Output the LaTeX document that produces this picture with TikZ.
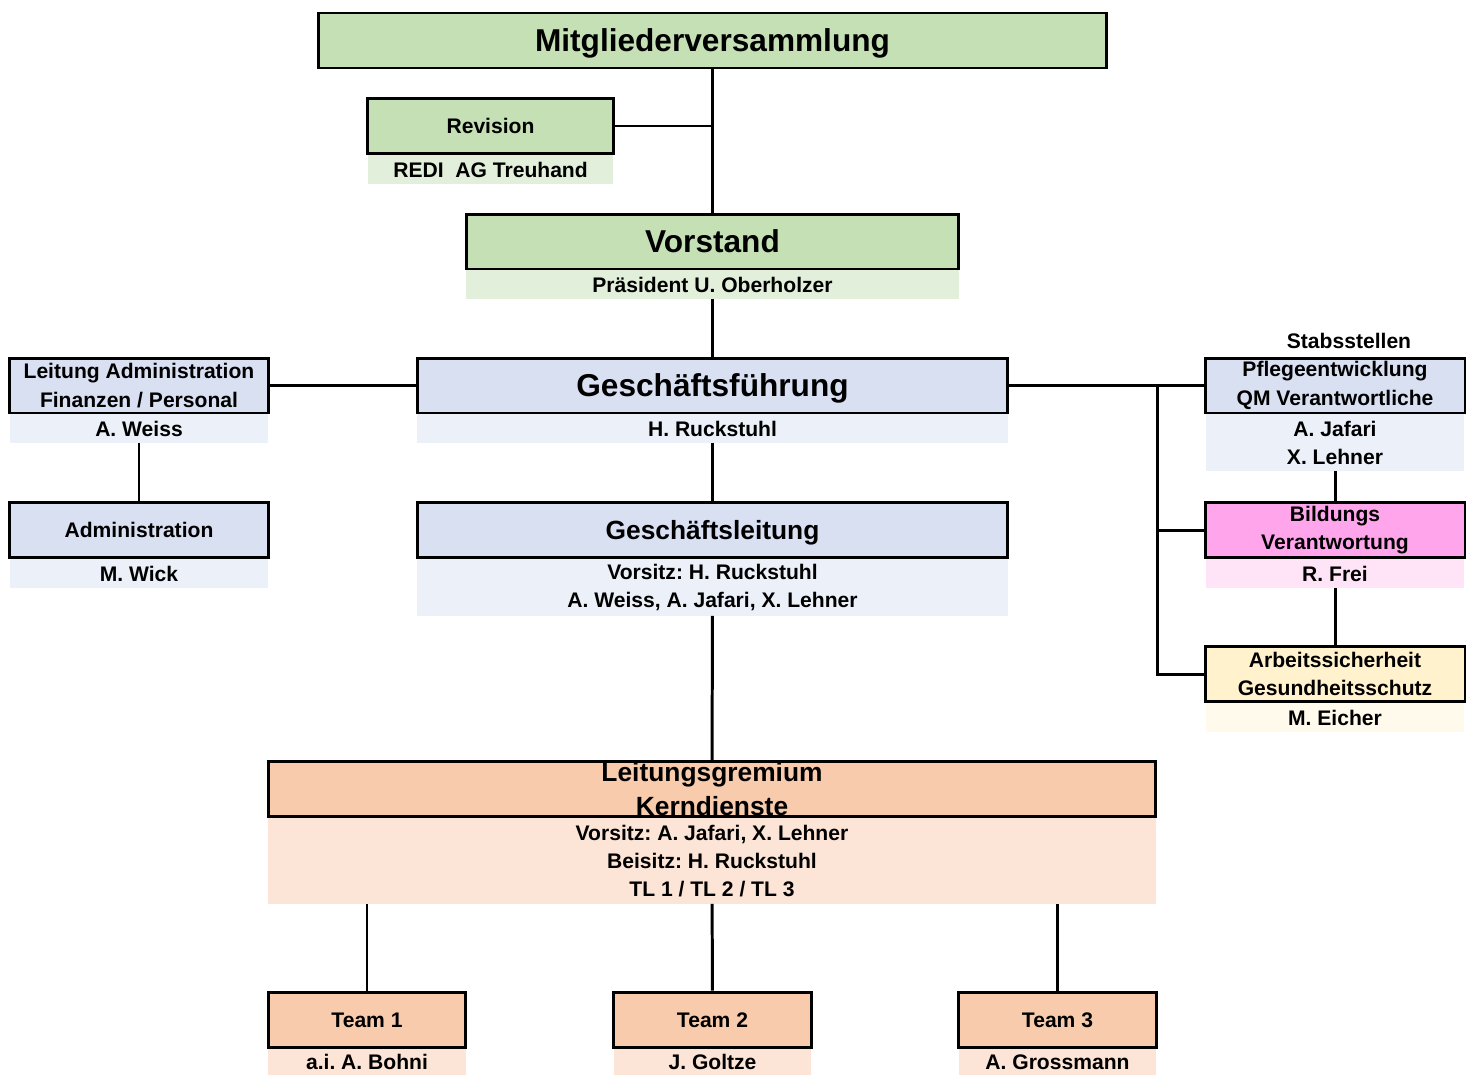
\documentclass[tikz,border=0pt]{standalone}
\usepackage{fontspec}
\setmainfont{Liberation Sans}
\usetikzlibrary{positioning}

\definecolor{mvgreen}{HTML}{C5E0B4}
\definecolor{mvgreenlt}{HTML}{E2EFDA}
\definecolor{gfblue}{HTML}{D9E0F2}
\definecolor{gfbluelt}{HTML}{ECF0F9}
\definecolor{lgorange}{HTML}{F8CBAD}
\definecolor{lgorangelt}{HTML}{FCE4D6}
\definecolor{bipink}{HTML}{FFA5EB}
\definecolor{bipinklt}{HTML}{FFE3F7}
\definecolor{asyellow}{HTML}{FFF2CC}
\definecolor{asyellowlt}{HTML}{FFFAEB}

\newcommand{\fsz}[2]{\bfseries\frenchspacing\fontsize{#1}{#2}\selectfont}

\begin{document}
\begin{tikzpicture}[x=0.02cm, y=-0.02cm,
    box/.style={draw, line width=1.7pt, inner sep=0pt, minimum height=1.1cm, align=center, font=\fsz{12}{16.4}},
    single/.style={text height=#1, text depth=0pt},
    single/.default=8.6pt,
    sub/.style={inner sep=0pt, outer sep=0pt, minimum height=0.58cm, align=center, font=\fsz{12}{16}},
    link/.style={line width=1.7pt}]
        \useasboundingbox (0,0) rectangle (1470,1075);

        % top
        \node[box, single=12.9pt, fill=mvgreen, minimum width=15.78cm, font=\fsz{18}{22}] (mv) at (712.5,40.5) {Mitgliederversammlung};
        \node[box, single, fill=mvgreen, minimum width=4.94cm] (rev) at (490.5,126) {Revision};
        \node[sub, fill=mvgreenlt, minimum width=4.92cm, below=0pt of rev] (revsub) {REDI\ \ AG Treuhand};
        \node[box, single=12.9pt, fill=mvgreen, minimum width=9.86cm, font=\fsz{18}{22}] (vs) at (712.5,241.5) {Vorstand};
        \node[sub, fill=mvgreenlt, minimum width=9.86cm, below=0pt of vs] (vssub) {Präsident U. Oberholzer};

        % middle
        \node[box, single=12.9pt, fill=gfblue, minimum width=11.82cm, font=\fsz{18}{22}] (gf) at (712.5,385.5) {Geschäftsführung};
        \node[sub, fill=gfbluelt, minimum width=11.82cm, below=0pt of gf] (gfsub) {H. Ruckstuhl};
        \node[box, fill=gfblue, minimum width=5.2cm] (la) at (139,385.5) {Leitung Administration\\Finanzen / Personal};
        \node[sub, fill=gfbluelt, minimum width=5.16cm, below=0pt of la] (lasub) {A. Weiss};
        \node[box, single, fill=gfblue, minimum width=5.2cm] (adm) at (139,530) {Administration};
        \node[sub, fill=gfbluelt, minimum width=5.16cm, below=0pt of adm] (admsub) {M. Wick};
        \node[box, single=10.7pt, fill=gfblue, minimum width=11.82cm, font=\fsz{15}{19}] (gl) at (712.5,530) {Geschäftsleitung};
        \node[sub, fill=gfbluelt, minimum width=11.82cm, minimum height=1.14cm, below=0pt of gl] (glsub) {Vorsitz: H. Ruckstuhl\\A. Weiss, A. Jafari, X. Lehner};

        % Stabsstellen
        \node[font=\fsz{12}{16}] (stab) at (1349,341) {Stabsstellen};
        \node[box, fill=gfblue, minimum width=5.2cm] (pf) at (1335,385.5) {Pflegeentwicklung\\QM Verantwortliche};
        \node[sub, fill=gfbluelt, minimum width=5.16cm, minimum height=1.14cm, below=0pt of pf] (pfsub) {A. Jafari\\X. Lehner};
        \node[box, fill=bipink, minimum width=5.2cm] (bi) at (1335,530) {Bildungs\\Verantwortung};
        \node[sub, fill=bipinklt, minimum width=5.16cm, below=0pt of bi] (bisub) {R. Frei};
        \node[box, fill=asyellow, minimum width=5.2cm] (as) at (1335,674) {Arbeitssicherheit\\Gesundheitsschutz};
        \node[sub, fill=asyellowlt, minimum width=5.16cm, below=0pt of as] (assub) {M. Eicher};

        % bottom
        \node[box, fill=lgorange, minimum width=17.76cm, font=\fsz{15}{19}] (lg) at (712,789) {Leitungsgremium\\Kerndienste};
        \node[sub, fill=lgorangelt, minimum width=17.76cm, minimum height=1.72cm, below=0pt of lg] (lgsub) {Vorsitz: A. Jafari, X. Lehner\\Beisitz: H. Ruckstuhl\\TL 1 / TL 2 / TL 3};
        \node[box, single, fill=lgorange, minimum width=3.96cm] (t1) at (367,1019.5) {Team 1};
        \node[sub, fill=lgorangelt, minimum width=3.96cm, minimum height=0.54cm, below=0pt of t1] (t1sub) {a.i. A. Bohni};
        \node[box, single, fill=lgorange, minimum width=3.96cm] (t2) at (712.5,1019.5) {Team 2};
        \node[sub, fill=lgorangelt, minimum width=3.96cm, minimum height=0.54cm, below=0pt of t2] (t2sub) {J. Goltze};
        \node[box, single, fill=lgorange, minimum width=3.96cm] (t3) at (1057.5,1019.5) {Team 3};
        \node[sub, fill=lgorangelt, minimum width=3.96cm, minimum height=0.54cm, below=0pt of t3] (t3sub) {A. Grossmann};

        \coordinate (bus) at (1157,385.5);

        \draw[link] (mv) -- (vs);
        \draw[link] (rev.east) -- (rev.east -| mv);
        \draw[link] (vssub) -- (gf);
        \draw[link] (la) -- (gf);
        \draw[link] (lasub) -- (adm);
        \draw[link] (gfsub) -- (gl);
        \draw[link] (glsub) -- (lg);
        \draw[link] (gf) -- (pf);
        \draw[link] (bus) |- (as);
        \draw[link] (bus |- bi) -- (bi);
        \draw[link] (pfsub) -- (bi);
        \draw[link] (bisub) -- (as);
        \draw[link] (t1 |- lgsub.south) -- (t1);
        \draw[link] (lgsub) -- (t2);
        \draw[link] (t3 |- lgsub.south) -- (t3);
      \end{tikzpicture}
\end{document}
